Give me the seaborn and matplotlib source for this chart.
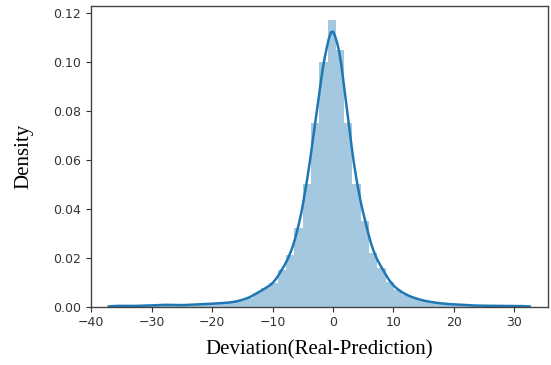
import numpy as np
import matplotlib
matplotlib.use("Agg")
import matplotlib.pyplot as plt
import seaborn as sns

# Histogram: 50 bins of width ~1.375
bin_edges = [-36.64 + 1.375 * i for i in range(51)]
bin_centers = [round(e + 0.6875, 3) for e in bin_edges[:-1]]
density = [
    0.0004, 0.0003, 0.0003, 0.0004, 0.0005, 0.0006, 0.0008, 0.0007, 0.0006, 0.0008,
    0.0010, 0.0011, 0.0013, 0.0015, 0.0018, 0.0025, 0.0036, 0.0055, 0.0075, 0.0096,
    0.0150, 0.0210, 0.0320, 0.0500, 0.0750, 0.1000, 0.1170, 0.1050, 0.0750, 0.0500,
    0.0350, 0.0220, 0.0160, 0.0100, 0.0068, 0.0048, 0.0035, 0.0025, 0.0019, 0.0014,
    0.0011, 0.0009, 0.0007, 0.0005, 0.0004, 0.0004, 0.0003, 0.0003, 0.0003, 0.0003,
]

fig = plt.figure(figsize=(5.51, 3.65), dpi=100)
ax = fig.add_axes([0.1646, 0.1597, 0.8300, 0.8239])

sns.histplot(
    x=bin_centers, weights=density, bins=bin_edges, stat="count",
    color="#1f77b4", alpha=0.4, linewidth=0, kde=True,
    kde_kws={"bw_adjust": 0.21, "cut": 0.6},
    line_kws={"linewidth": 1.8}, ax=ax,
)
ax.lines[0].set_color("#1f77b4")
ax.set_xlim(-40.1, 35.6)
ax.set_ylim(0, 0.1229)

ax.set_xlabel("Deviation(Real-Prediction)", family="Liberation Serif", fontsize=15, labelpad=8)
ax.set_ylabel("Density", family="Liberation Serif", fontsize=15, labelpad=14)
ax.tick_params(labelsize=9, colors="#333333")
for s in ax.spines.values():
    s.set_color("#444444")
    s.set_linewidth(1.0)

fig.savefig("out.png", dpi=100)
